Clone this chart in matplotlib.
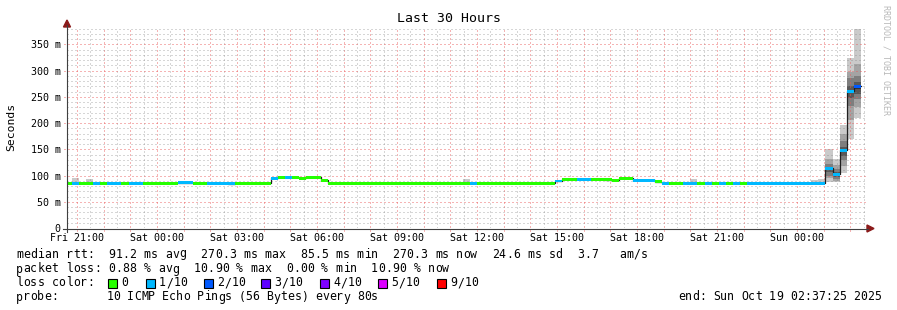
import numpy as np
import matplotlib.pyplot as plt
from matplotlib.patches import Rectangle, Polygon
from matplotlib.lines import Line2D

plt.rcParams['font.family'] = ['DejaVu Sans Mono', 'DejaVu Sans']

W, H = 897, 310

# time axis: hours counted from Fri 00:00, RRD step = 16 min
t_first = 20 + 32 / 60
step_h = 16 / 60
t_left = 20 + 37 / 60 + 25 / 3600
t_right = t_left + 30

# median rtt (ms) as runs of steps, with lost pings per step (of 10)
run_len = [1, 1, 2, 1, 1, 2, 1, 2, 5, 2, 2, 3, 1, 5,
           1, 1, 1, 1, 1, 2, 1,
           20, 1, 11,
           1, 2, 2, 2, 1, 1, 2, 3, 1,
           1, 2, 2, 1, 1, 1, 1, 1, 1, 1, 4, 7,
           1, 1, 1, 1, 1]
run_med = [85.5, 85.5, 85.5, 85.5, 85.5, 85.5, 85.5, 85.5, 85.5, 86.5, 85.5, 85.5, 84.5, 85.5,
           94.5, 96.5, 96.5, 96.5, 94.5, 96.5, 90.5,
           85.5, 85.5, 85.5,
           89.5, 92.5, 92.5, 92.5, 92.0, 90.5, 94.5, 90.5, 88.0,
           85.5, 85.5, 85.5, 85.5, 85.5, 85.5, 85.5, 85.5, 85.5, 85.5, 85.0, 85.5,
           113.5, 102.0, 148.0, 260.5, 270.3]
run_loss = [0, 1, 0, 1, 0, 1, 0, 1, 0, 1, 0, 1, 1, 0,
            1, 0, 1, 0, 0, 0, 0,
            0, 1, 0,
            1, 0, 1, 0, 0, 0, 0, 1, 0,
            1, 0, 1, 0, 1, 0, 1, 0, 1, 0, 1, 1,
            1, 1, 1, 1, 2]

# individual ping times (ms) for steps where smoke is visible
smoke_steps = [1, 3, 56, 76, 88, 105, 106, 107, 108, 109, 110, 111]
smoke_pings = [
    [84.5, 85, 85, 85.5, 85.5, 85.5, 86, 86, 87, 95],
    [84.5, 85, 85, 85.5, 85.5, 85.5, 86, 86, 87, 93],
    [84.5, 85, 85, 85.5, 85.5, 85.5, 86, 86, 87, 93],
    [89, 90, 91, 91.5, 92, 92, 92.5, 93, 93.5, 95],
    [84.5, 85, 85, 85.5, 85.5, 85.5, 86, 86, 87, 93],
    [84.5, 85, 85, 85.5, 85.5, 85.5, 86, 86, 87, 91],
    [84.5, 85, 85, 85.5, 85.5, 85.5, 86, 86, 87, 93],
    [88, 95, 100, 106, 110, 113.5, 116, 121, 132, 150],
    [87, 90, 94, 98, 101, 102, 106, 112, 120, 132],
    [105, 118, 130, 138, 144, 148, 155, 165, 180, 196],
    [169, 205, 232, 248, 258, 261, 270, 285, 297, 323],
    [210, 231, 245, 255, 265, 270.3, 278, 290, 313, 380],
]

loss_colors = {0: '#26ff00', 1: '#00b8ff', 2: '#0059ff', 3: '#5e00ff',
               4: '#7e00ff', 5: '#dd00ff', 9: '#ff0000'}
legend_loss = [0, 1, 2, 3, 4, 5, 9]
legend_loss_lbl = ['0', '1/10', '2/10', '3/10', '4/10', '5/10', '9/10']

tick_hours = [21, 24, 27, 30, 33, 36, 39, 42, 45, 48]
tick_labels = ['Fri 21:00', 'Sat 00:00', 'Sat 03:00', 'Sat 06:00', 'Sat 09:00',
               'Sat 12:00', 'Sat 15:00', 'Sat 18:00', 'Sat 21:00', 'Sun 00:00']
y_ticks = [0, 50, 100, 150, 200, 250, 300, 350]

med = np.repeat(run_med, run_len)
loss = np.repeat(run_loss, run_len)
starts = t_first + np.arange(len(med)) * step_h

fig = plt.figure(figsize=(W / 100, H / 100), dpi=100, facecolor='white')
ax = fig.add_axes([67 / W, 1 - 228 / H, 800 / W, 200 / H])
ymax = 381
ax.set_xlim(t_left, t_right)
ax.set_ylim(0, ymax)
for s in ax.spines.values():
    s.set_visible(False)

# smoke
greys = ['#cacaca', '#a4a4a4', '#7e7e7e', '#585858', '#323232']
for k, pings in zip(smoke_steps, smoke_pings):
    p = sorted(pings)
    for j in range(5):
        ax.bar(starts[k], p[9 - j] - p[j], width=step_h, bottom=p[j], align='edge',
               color=greys[j], linewidth=0, zorder=1)

# grid
maj_c = (0.92, 0.35, 0.35, 0.45)
min_c = (0.5, 0.5, 0.5, 0.32)
dots = (0, (1.5, 2.5))
for h in np.arange(21, 51, 0.5):
    if h == int(h):
        ax.plot([h, h], [-5, ymax], color=maj_c, lw=0.75, ls=dots,
                clip_on=False, zorder=2, antialiased=False)
    else:
        ax.plot([h, h], [0, ymax], color=min_c, lw=0.75, ls=dots,
                zorder=2, antialiased=False)
for v in range(10, 381, 10):
    if v % 50 == 0:
        ax.plot([t_left - 0.1, t_right], [v, v], color=maj_c, lw=0.75, ls=dots,
                clip_on=False, zorder=2, antialiased=False)
    else:
        ax.plot([t_left, t_right], [v, v], color=min_c, lw=0.75, ls=dots,
                zorder=2, antialiased=False)

# median line and loss-coloured band
edges = np.append(starts, starts[-1] + step_h)
ax.step(edges, np.append(med, med[-1]), where='post', color='#202020', lw=0.9, zorder=3)
ax.bar(starts, np.full(len(med), 5.6), width=step_h, bottom=med - 2.8, align='edge',
       color=[loss_colors[l] for l in loss], linewidth=0, zorder=4)

# ticks
ax.set_xticks(tick_hours, tick_labels)
ax.set_yticks(y_ticks, ['0' if v == 0 else f'{v} m' for v in y_ticks])
ax.tick_params(axis='x', length=0, pad=3.5, labelsize=7.2)
ax.tick_params(axis='y', length=0, pad=4.5, labelsize=7.2)


def fx(px):
    return px / W


def fy(py):
    return 1 - py / H


def mono(x, y, s, adv=7.1, fs=8.3):
    # monospaced text with rrdtool-like character advance, y = line centre
    for i, ch in enumerate(s):
        if ch != ' ':
            fig.text(fx(x + i * adv), fy(y + 3.5), ch, va='baseline', fontsize=fs)


# axes with arrows
fig.add_artist(Line2D([fx(63), fx(868)], [fy(228.5), fy(228.5)], color='#404040', lw=0.8))
fig.add_artist(Line2D([fx(67), fx(67)], [fy(232), fy(25)], color='#404040', lw=0.8))
fig.add_artist(Polygon([[fx(867), fy(225)], [fx(867), fy(232)], [fx(874), fy(228.5)]],
                       closed=True, color='#8b1a1a', transform=fig.transFigure))
fig.add_artist(Polygon([[fx(63.5), fy(27)], [fx(70.5), fy(27)], [fx(67), fy(20)]],
                       closed=True, color='#8b1a1a', transform=fig.transFigure))

fig.text(0.5, fy(19), 'Last 30 Hours', ha='center', va='center', fontsize=9.5)
fig.text(fx(11), fy(127), 'Seconds', ha='center', va='center', rotation=90, fontsize=8.2)
fig.text(fx(886), fy(5), 'RRDTOOL / TOBI OETIKER', ha='center', va='top', rotation=270,
         fontsize=6, color='#b8b8b8')

# legend lines
mono(16, 254, 'median rtt:  91.2 ms avg  270.3 ms max  85.5 ms min  '
     '270.3 ms now  24.6 ms sd  3.7   am/s')
mono(16, 269, 'packet loss: 0.88 % avg  10.90 % max  0.00 % min  10.90 % now')
mono(16, 283, 'loss color:')
box_x = [108, 146, 204, 261, 320, 378, 437]
for bx, l, lbl in zip(box_x, legend_loss, legend_loss_lbl):
    fig.add_artist(Rectangle((fx(bx), fy(287.5)), 9 / W, 9 / H, facecolor=loss_colors[l],
                             edgecolor='black', lw=0.8, transform=fig.transFigure))
    mono(bx + 13, 283, lbl)
mono(16, 297, 'probe:       10 ICMP Echo Pings (56 Bytes) every 80s', adv=6.96)
mono(678, 297, 'end: Sun Oct 19 02:37:25 2025', adv=7.0)

fig.savefig('out.png', dpi=100, facecolor='white')
